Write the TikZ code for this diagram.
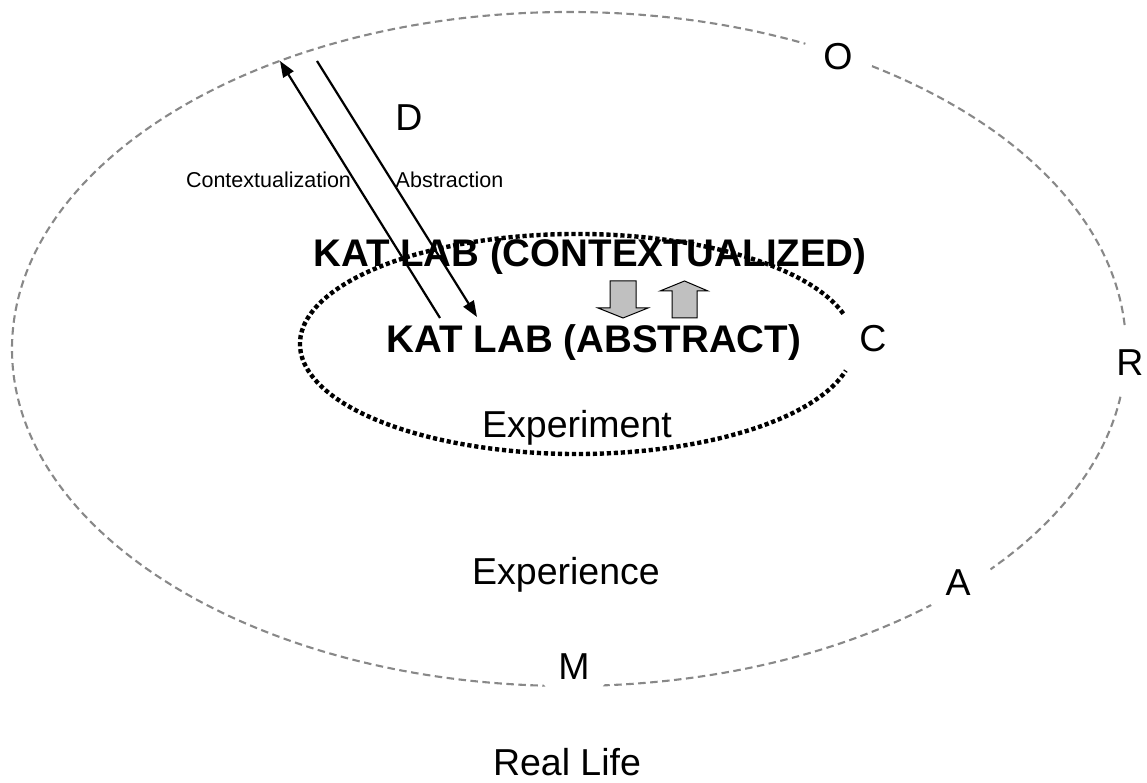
\documentclass[tikz,border=0pt]{standalone}
\usepackage{fontspec}
\setmainfont{Liberation Sans}
\usetikzlibrary{arrows.meta,calc}
\definecolor{dashgray}{HTML}{888888}
\definecolor{blockgray}{HTML}{C0C0C0}
\begin{document}
\begin{tikzpicture}[x=1pt,y=1pt,
  outerline/.style={draw=dashgray,line width=2.1pt,dash pattern=on 7.5pt off 4.5pt},
  innerdot/.style={draw=black,line width=4.4pt,dash pattern=on 4.2pt off 2.8pt},
  bigtxt/.style={font=\fontsize{37.5}{40}\selectfont,inner sep=0pt},
  boldtxt/.style={font=\fontsize{38.5}{41}\selectfont\bfseries,inner sep=0pt,anchor=base},
  smalltxt/.style={font=\fontsize{21.5}{24}\selectfont,inner sep=0pt,anchor=base},
  letter/.style={bigtxt,circle,fill=white,minimum size=70pt},
  flow/.style={draw=black,line width=2.2pt,-{Triangle[length=16pt,width=12pt]}},
  block/.style={draw=black,line width=1pt,fill=blockgray,line join=miter}]
\useasboundingbox (0,0) rectangle (1147,783);
% outer ellipse (Real Life boundary)
\coordinate (oc) at (569,434);
\draw[outerline] (oc) ellipse [x radius=557pt, y radius=337pt];
% letters on the outer ellipse
\node[letter] (O) at (838,726.5) {O};
\node[letter] (R) at (1130,420.5) {R};
\node[letter] (A) at (958,200.5) {A};
\node[letter] (M) at (574,116.5) {M};
\node[bigtxt] (D) at (409,665) {D};
% inner dotted ellipse
\coordinate (ic) at (577,439);
\draw[innerdot] ($(ic)+(16:277pt and 110pt)$) arc[start angle=16, end angle=346, x radius=277pt, y radius=110pt];
\node[bigtxt] (C) at (873,444.5) {C};
% main texts
\node[boldtxt] (ctx) at (590,516) {KAT LAB (CONTEXTUALIZED)};
\node[boldtxt] (abs) at (594,430) {KAT LAB (ABSTRACT)};
\node[bigtxt,anchor=base] (exp) at (577,345) {Experiment};
\node[bigtxt,anchor=base] (expc) at (566,198) {Experience};
\node[bigtxt,anchor=base] (real) at (567,7) {Real Life};
\node[smalltxt] (lctx) at (268.5,595) {Contextualization};
\node[smalltxt] (labs) at (449.5,595) {Abstraction};
% flow arrows
\coordinate (c1) at (440,465);
\coordinate (c2) at (280,722);
\coordinate (a1) at (317,722);
\coordinate (a2) at (477,466);
\draw[flow] (c1) -- (c2);
\draw[flow] (a1) -- (a2);
% block arrows
\draw[block] (610,502) -- (636,502) -- (636,475) -- (648,475) -- (623,465) -- (598,475) -- (610,475) -- cycle;
\draw[block] (672,465) -- (697,465) -- (697,492) -- (708,492) -- (684.5,502) -- (660,492) -- (672,492) -- cycle;
\end{tikzpicture}
\end{document}
